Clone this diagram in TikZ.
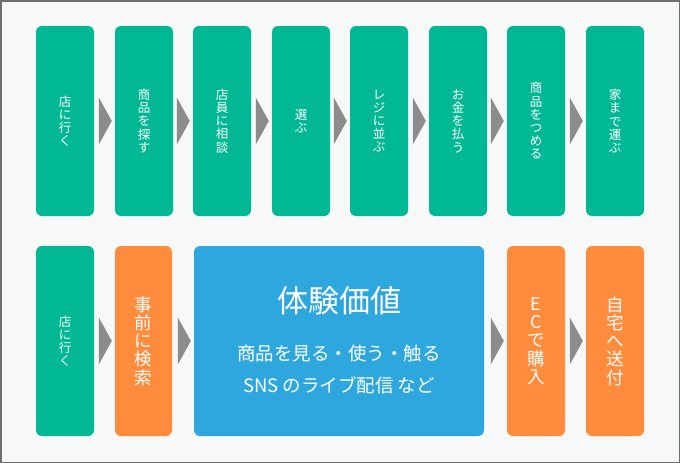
\documentclass[tikz,border=0pt]{standalone}
\usepackage{fontspec}
\setmainfont{Noto Sans CJK JP}
\usetikzlibrary{calc}
\definecolor{bgc}{RGB}{247,248,248}
\definecolor{framec}{RGB}{110,110,110}
\definecolor{greenc}{RGB}{0,185,148}
\definecolor{orangec}{RGB}{255,140,60}
\definecolor{bluec}{RGB}{46,166,222}
\definecolor{arrowc}{RGB}{140,140,140}
\tikzset{
  box/.style={rounded corners=6pt, inner sep=0pt, minimum width=58pt, minimum height=190pt, text=white, align=center},
  gbox/.style={box, fill=greenc, font=\fontsize{12.5}{13.2}\selectfont},
  obox/.style={box, fill=orangec, font=\fontsize{17.5}{18.3}\selectfont},
  bbox/.style={box, fill=bluec, minimum width=290pt},
  txt/.style={text=white, inner sep=0pt},
}
\newcommand{\chev}[1]{\fill[arrowc] ($(#1.west)+(-16,-23.5)$) -- ($(#1.west)+(-16,23.5)$) -- ($(#1.west)+(-3,0)$) -- cycle;}
\begin{document}
\begin{tikzpicture}[x=1pt,y=-1pt]
\fill[bgc] (0,0) rectangle (680,463);
\useasboundingbox (0,0) rectangle (680,463);
\draw[framec, line width=1.5pt] (0.75,0.75) rectangle (679.25,462.25);
% top row
\node[gbox] (t1) at (65,121) {店\\に\\行\\く};
\node[gbox] (t2) at (144,121) {商\\品\\を\\探\\す};
\node[gbox] (t3) at (222,121) {店\\員\\に\\相\\談};
\node[gbox] (t4) at (301,121) {選\\ぶ};
\node[gbox] (t5) at (379,121) {レ\\ジ\\に\\並\\ぶ};
\node[gbox] (t6) at (458,121) {お\\金\\を\\払\\う};
\node[gbox] (t7) at (536,121) {商\\品\\を\\つ\\め\\る};
\node[gbox] (t8) at (615,121) {家\\ま\\で\\運\\ぶ};
\chev{t2}\chev{t3}\chev{t4}\chev{t5}\chev{t6}\chev{t7}\chev{t8}
% bottom row
\node[gbox] (b1) at (65,341) {店\\に\\行\\く};
\node[obox, minimum width=57pt] (b2) at (143.5,341) {事\\前\\に\\検\\索};
\node[bbox] (b3) at (339,341) {};
\node[obox] (b4) at (536,341) {E\\C\\で\\購\\入};
\node[obox] (b5) at (615,341) {自\\宅\\へ\\送\\付};
\chev{b2}\chev{b3}\chev{b4}\chev{b5}
\node[txt, font=\fontsize{31}{34}\selectfont] (title) at ($(b3.center)+(0,-40)$) {体験価値};
\node[txt, font=\fontsize{18.5}{20}\selectfont] (l1) at ($(b3.center)+(0,12)$) {商品を見る・使う・触る};
\node[txt, font=\fontsize{18.5}{20}\selectfont] (l2) at ($(b3.center)+(0,44)$) {SNS のライブ配信 など};
\end{tikzpicture}
\end{document}
